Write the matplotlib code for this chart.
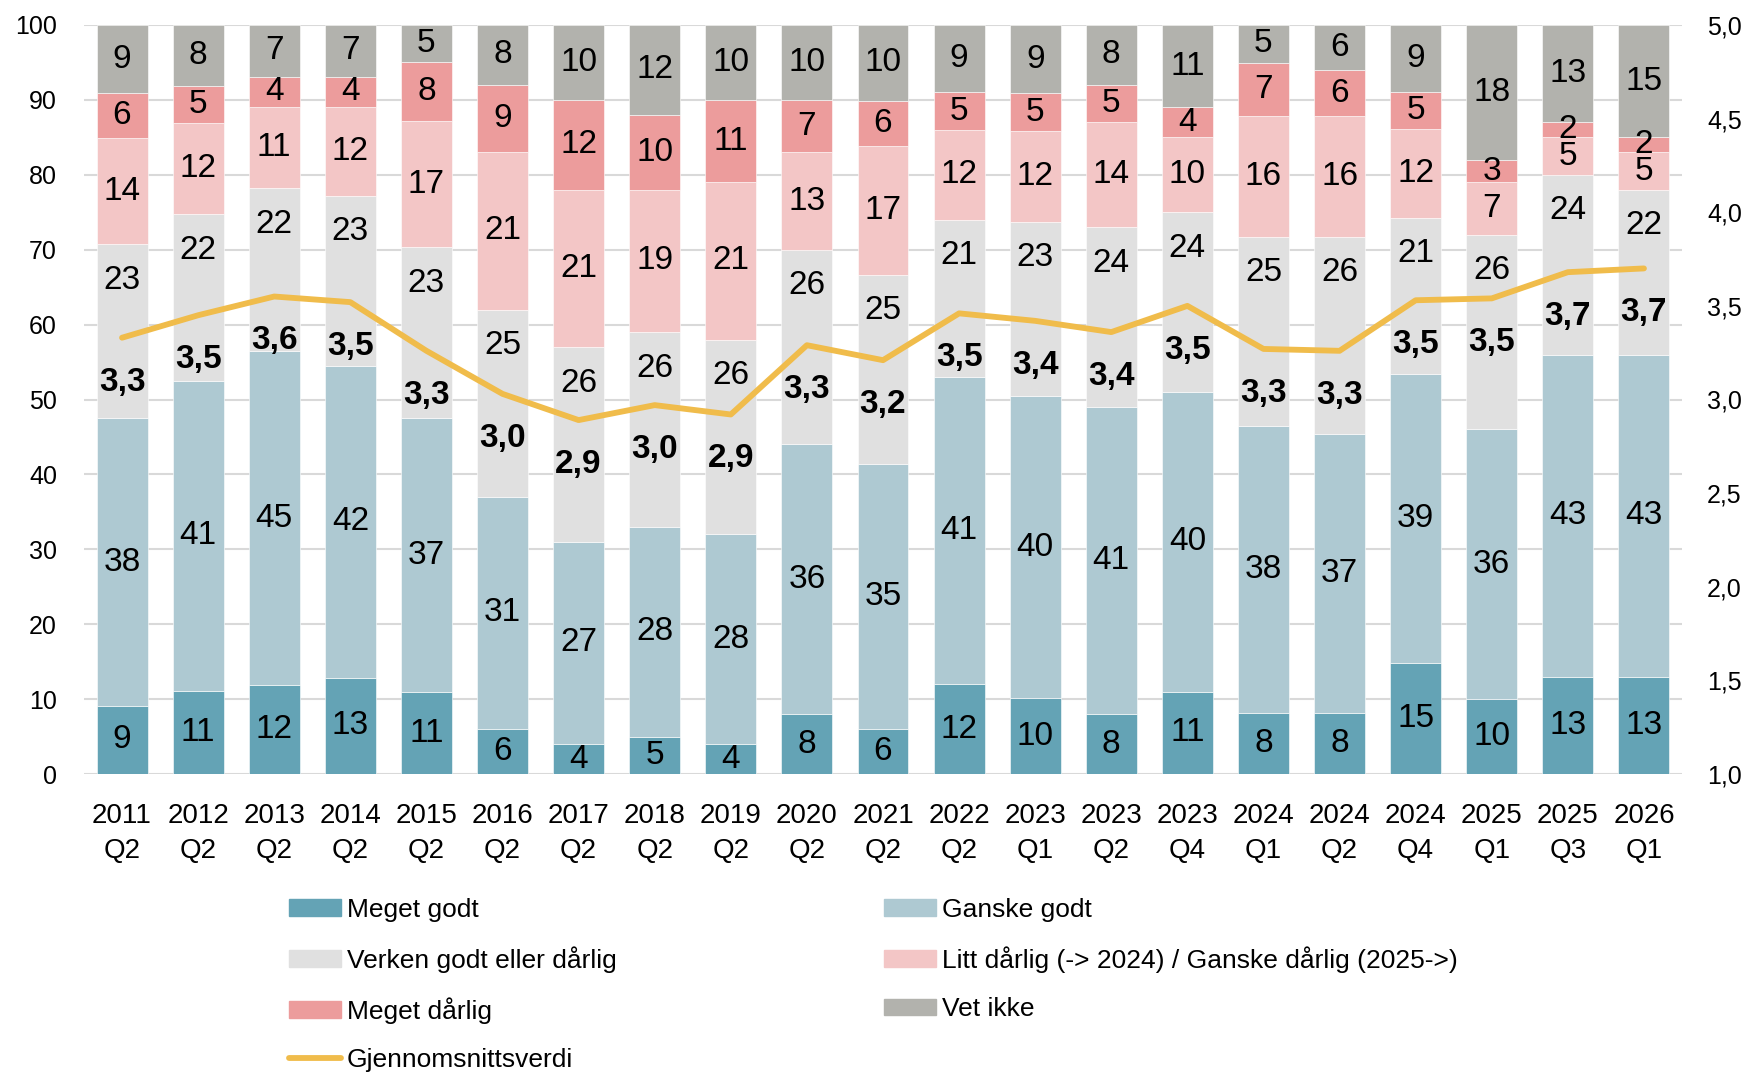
import numpy as np
import matplotlib
matplotlib.use('Agg')
import matplotlib.pyplot as plt
from matplotlib.patches import Patch
from matplotlib.lines import Line2D

plt.rcParams['font.family'] = ['Liberation Sans', 'DejaVu Sans']

# data
kategorier = ['2011\nQ2', '2012\nQ2', '2013\nQ2', '2014\nQ2', '2015\nQ2', '2016\nQ2', '2017\nQ2',
              '2018\nQ2', '2019\nQ2', '2020\nQ2', '2021\nQ2', '2022\nQ2', '2023\nQ1', '2023\nQ2',
              '2023\nQ4', '2024\nQ1', '2024\nQ2', '2024\nQ4', '2025\nQ1', '2025\nQ3', '2026\nQ1']

meget_godt   = [9, 11, 12, 13, 11, 6, 4, 5, 4, 8, 6, 12, 10, 8, 11, 8, 8, 15, 10, 13, 13]
ganske_godt  = [38, 41, 45, 42, 37, 31, 27, 28, 28, 36, 35, 41, 40, 41, 40, 38, 37, 39, 36, 43, 43]
verken       = [23, 22, 22, 23, 23, 25, 26, 26, 26, 26, 25, 21, 23, 24, 24, 25, 26, 21, 26, 24, 22]
litt_darlig  = [14, 12, 11, 12, 17, 21, 21, 19, 21, 13, 17, 12, 12, 14, 10, 16, 16, 12, 7, 5, 5]
meget_darlig = [6, 5, 4, 4, 8, 9, 12, 10, 11, 7, 6, 5, 5, 5, 4, 7, 6, 5, 3, 2, 2]
vet_ikke     = [9, 8, 7, 7, 5, 8, 10, 12, 10, 10, 10, 9, 9, 8, 11, 5, 6, 9, 18, 13, 15]

snitt = [3.33, 3.45, 3.55, 3.52, 3.26, 3.03, 2.89, 2.97, 2.92, 3.29, 3.21, 3.46, 3.42, 3.36,
         3.50, 3.27, 3.26, 3.53, 3.54, 3.68, 3.70]
snitt_tekst = ['3,3', '3,5', '3,6', '3,5', '3,3', '3,0', '2,9', '3,0', '2,9', '3,3', '3,2', '3,5',
               '3,4', '3,4', '3,5', '3,3', '3,3', '3,5', '3,5', '3,7', '3,7']

serier = [
    ('Meget godt', meget_godt, '#64A3B5'),
    ('Ganske godt', ganske_godt, '#AEC9D2'),
    ('Verken godt eller dårlig', verken, '#E0E0E0'),
    ('Litt dårlig (-> 2024) / Ganske dårlig (2025->)', litt_darlig, '#F3C6C6'),
    ('Meget dårlig', meget_darlig, '#EC9C9C'),
    ('Vet ikke', vet_ikke, '#B2B2AD'),
]
linjefarge = '#F0BC4B'

# stack normalised to 100 so every bar reaches the top (labels keep the rounded values)
tabell = np.array([s[1] for s in serier], dtype=float)
andel = tabell / tabell.sum(axis=0) * 100

W, H = 1744, 1074
fig = plt.figure(figsize=(W / 100, H / 100), dpi=100)
ax = fig.add_axes([84 / W, 1 - 774 / H, (1682 - 84) / W, (774 - 25) / H])

x = np.arange(len(kategorier))
bunn = np.zeros(len(kategorier))
for i, (navn, verdier, farge) in enumerate(serier):
    ax.bar(x, andel[i], 0.67, bottom=bunn, color=farge, edgecolor='white', linewidth=0.4, zorder=2)
    for j in range(len(x)):
        if i == 2:
            # "verken" labels sit near the top of the segment, clear of the average labels
            ax.annotate(str(verdier[j]), (x[j], bunn[j] + andel[i][j]), xytext=(0, -26),
                        textcoords='offset points', ha='center', va='center', fontsize=24, zorder=5)
        else:
            ax.text(x[j], bunn[j] + andel[i][j] / 2, str(verdier[j]), ha='center', va='center',
                    fontsize=24, zorder=5)
    bunn += andel[i]

ax.set_ylim(0, 100)
ax.set_xlim(-0.5, len(x) - 0.5)
ax.set_yticks(np.arange(0, 101, 10))
ax.grid(axis='y', color='#D9D9D9', linewidth=1.5, zorder=0)
ax.set_axisbelow(True)
for s in ax.spines.values():
    s.set_visible(False)
ax.set_xticks(x)
ax.set_xticklabels(kategorier, fontsize=20, linespacing=1.45)
ax.tick_params(axis='x', length=0, pad=21)
ax.tick_params(axis='y', length=0, pad=19.5, labelsize=18)

ax2 = ax.twinx()
ax2.set_ylim(1, 5)
hoyre = np.arange(1, 5.01, 0.5)
ax2.set_yticks(hoyre)
ax2.set_yticklabels([f'{v:.1f}'.replace('.', ',') for v in hoyre])
ax2.tick_params(axis='y', length=0, pad=18, labelsize=18)
for s in ax2.spines.values():
    s.set_visible(False)
ax2.plot(x, snitt, color=linjefarge, linewidth=4.2, zorder=4, solid_capstyle='round')
for j in range(len(x)):
    ax2.annotate(snitt_tekst[j], (x[j], snitt[j]), xytext=(0, -32), textcoords='offset points',
                 ha='center', va='center', fontsize=24, fontweight='bold', zorder=6)

# legend in two columns
h1 = [Patch(color=serier[0][2]), Patch(color=serier[2][2]), Patch(color=serier[4][2]),
      Line2D([], [], color=linjefarge, linewidth=4.2, solid_capstyle='round')]
l1 = [serier[0][0], serier[2][0], serier[4][0], 'Gjennomsnittsverdi']
h2 = [Patch(color=serier[1][2]), Patch(color=serier[3][2]), Patch(color=serier[5][2])]
l2 = [serier[1][0], serier[3][0], serier[5][0]]
felles = dict(loc='upper left', frameon=False, fontsize=19, borderpad=0, borderaxespad=0,
              handlelength=1.97, handleheight=0.6, handletextpad=0.23, labelspacing=0.92)
fig.legend(h1, l1, bbox_to_anchor=(289 / W, 1 - 898 / H), **felles)
fig.legend(h2, l2, bbox_to_anchor=(884 / W, 1 - 898 / H), **felles)

fig.savefig('out.png', dpi=100)
